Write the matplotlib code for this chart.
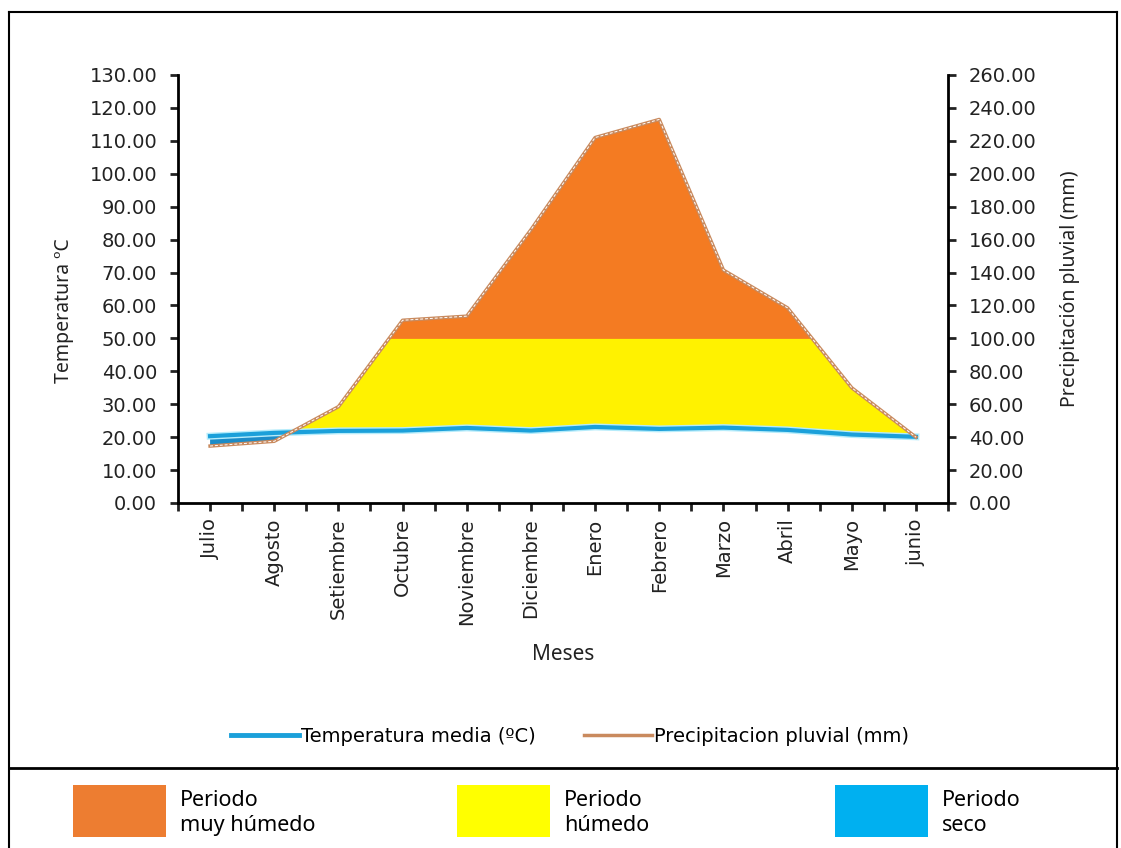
import matplotlib
matplotlib.use('Agg')
import matplotlib.pyplot as plt
import matplotlib.patheffects as pe
from matplotlib.lines import Line2D
from matplotlib.patches import Rectangle
from matplotlib.ticker import FormatStrFormatter
import numpy as np

# datos
meses = ['Julio', 'Agosto', 'Setiembre', 'Octubre', 'Noviembre', 'Diciembre',
         'Enero', 'Febrero', 'Marzo', 'Abril', 'Mayo', 'junio']
temperatura = [20.3, 21.3, 21.9, 22.0, 22.8, 22.0, 23.1, 22.5, 22.9, 22.2, 20.8, 20.1]
precipitacion = [34.6, 37.5, 58.5, 111.0, 113.5, 166.0, 222.0, 233.0, 141.5, 118.5, 70.0, 40.0]

x = np.arange(len(meses))
temp = np.array(temperatura)
prec2 = np.array(precipitacion) / 2.0   # precipitacion en escala del eje izquierdo

fig = plt.figure(figsize=(11.21, 8.48), dpi=100)
ax = fig.add_axes([178 / 1121, 1 - 503 / 848, 770 / 1121, 428 / 848])
ax2 = ax.twinx()

# periodos
ax.fill_between(x, temp, prec2, where=temp >= prec2, interpolate=True,
                color='#1C8CC8', lw=0, zorder=1)
ax.fill_between(x, temp, prec2, where=prec2 >= temp, interpolate=True,
                color='#FFF200', lw=0, zorder=1)
ax.fill_between(x, 50, prec2, where=prec2 >= 50, interpolate=True,
                color='#F47B22', lw=0, zorder=2)

ax.plot(x, temp, color='#1BA0DA', lw=3, zorder=3,
        path_effects=[pe.Stroke(linewidth=5, foreground='#B5ECFB'), pe.Normal()])
ax2.plot(x, precipitacion, color='#C98A5E', lw=2.5, zorder=3)
ax2.plot(x, precipitacion, color='white', lw=0.7, ls=(0, (3, 2)), zorder=4)

ax.set_xlim(-0.5, 11.5)
ax.set_ylim(0, 130)
ax2.set_ylim(0, 260)
ax.set_yticks(np.arange(0, 131, 10))
ax2.set_yticks(np.arange(0, 261, 20))
ax.yaxis.set_major_formatter(FormatStrFormatter('%.2f'))
ax2.yaxis.set_major_formatter(FormatStrFormatter('%.2f'))
ax.set_xticks(x)
ax.set_xticklabels(meses, rotation=90, fontsize=14)
ax.set_xticks(np.arange(-0.5, 11.6, 1), minor=True)

for a in (ax, ax2):
    a.spines['top'].set_visible(False)
    for s in a.spines.values():
        s.set_linewidth(2)
ax.spines['right'].set_visible(False)
ax2.spines['left'].set_visible(False)
ax2.spines['bottom'].set_visible(False)

ax.tick_params(axis='y', direction='out', length=6, width=2, pad=9, labelsize=14, colors='#222222')
ax2.tick_params(axis='y', direction='out', length=6, width=2, pad=9, labelsize=14, colors='#222222')
ax.tick_params(axis='x', which='both', direction='out', length=6, width=2, pad=5, colors='#222222')
ax.tick_params(axis='x', which='major', labelsize=14)

ax.set_ylabel('Temperatura ºC', fontsize=14, family='Noto Sans', color='#222222')
ax.yaxis.set_label_coords(-0.135, 0.45)
ax2.set_ylabel('Precipitación pluvial (mm)', fontsize=14, family='Noto Sans', color='#222222')
ax2.yaxis.set_label_coords(1.145, 0.5)
ax.set_xlabel('Meses', fontsize=15, family='Noto Sans', color='#222222')
ax.xaxis.set_label_coords(0.5, -0.33)

handles = [Line2D([], [], color='#1BA0DA', lw=3.5),
           Line2D([], [], color='#C98A5E', lw=2.5)]
fig.legend(handles, ['Temperatura media (ºC)', 'Precipitacion pluvial (mm)'],
           loc='center', bbox_to_anchor=(570 / 1121, 1 - 736 / 848), ncol=2,
           frameon=False, fontsize=14, handlelength=3.5, handletextpad=0.1,
           columnspacing=2.5)

# marcos
W, H = 1121, 848
def fx(px):
    return px / W
def fy(py):
    return 1 - py / H
fig.add_artist(Line2D([fx(9), fx(9)], [fy(12), 0], color='black', lw=1.5))
fig.add_artist(Line2D([fx(1117), fx(1117)], [fy(12), 0], color='black', lw=1.5))
fig.add_artist(Line2D([fx(9), fx(1117)], [fy(12), fy(12)], color='black', lw=1.5))
fig.add_artist(Line2D([fx(9), fx(1117)], [fy(768), fy(768)], color='black', lw=2))

# leyenda de periodos
periodos = [('#ED7D31', 73, 'Periodo\nmuy húmedo'),
            ('#FFFF00', 457, 'Periodo\nhúmedo'),
            ('#00B0F0', 835, 'Periodo\nseco')]
for color, px, texto in periodos:
    fig.add_artist(Rectangle((fx(px), fy(837)), 93 / W, 52 / H,
                             transform=fig.transFigure, color=color, lw=0))
    fig.text(fx(px + 107), fy(813), texto, fontsize=15.5, family='Noto Sans',
             va='center', ha='left', linespacing=1.3)

fig.savefig('out.png', dpi=100)
